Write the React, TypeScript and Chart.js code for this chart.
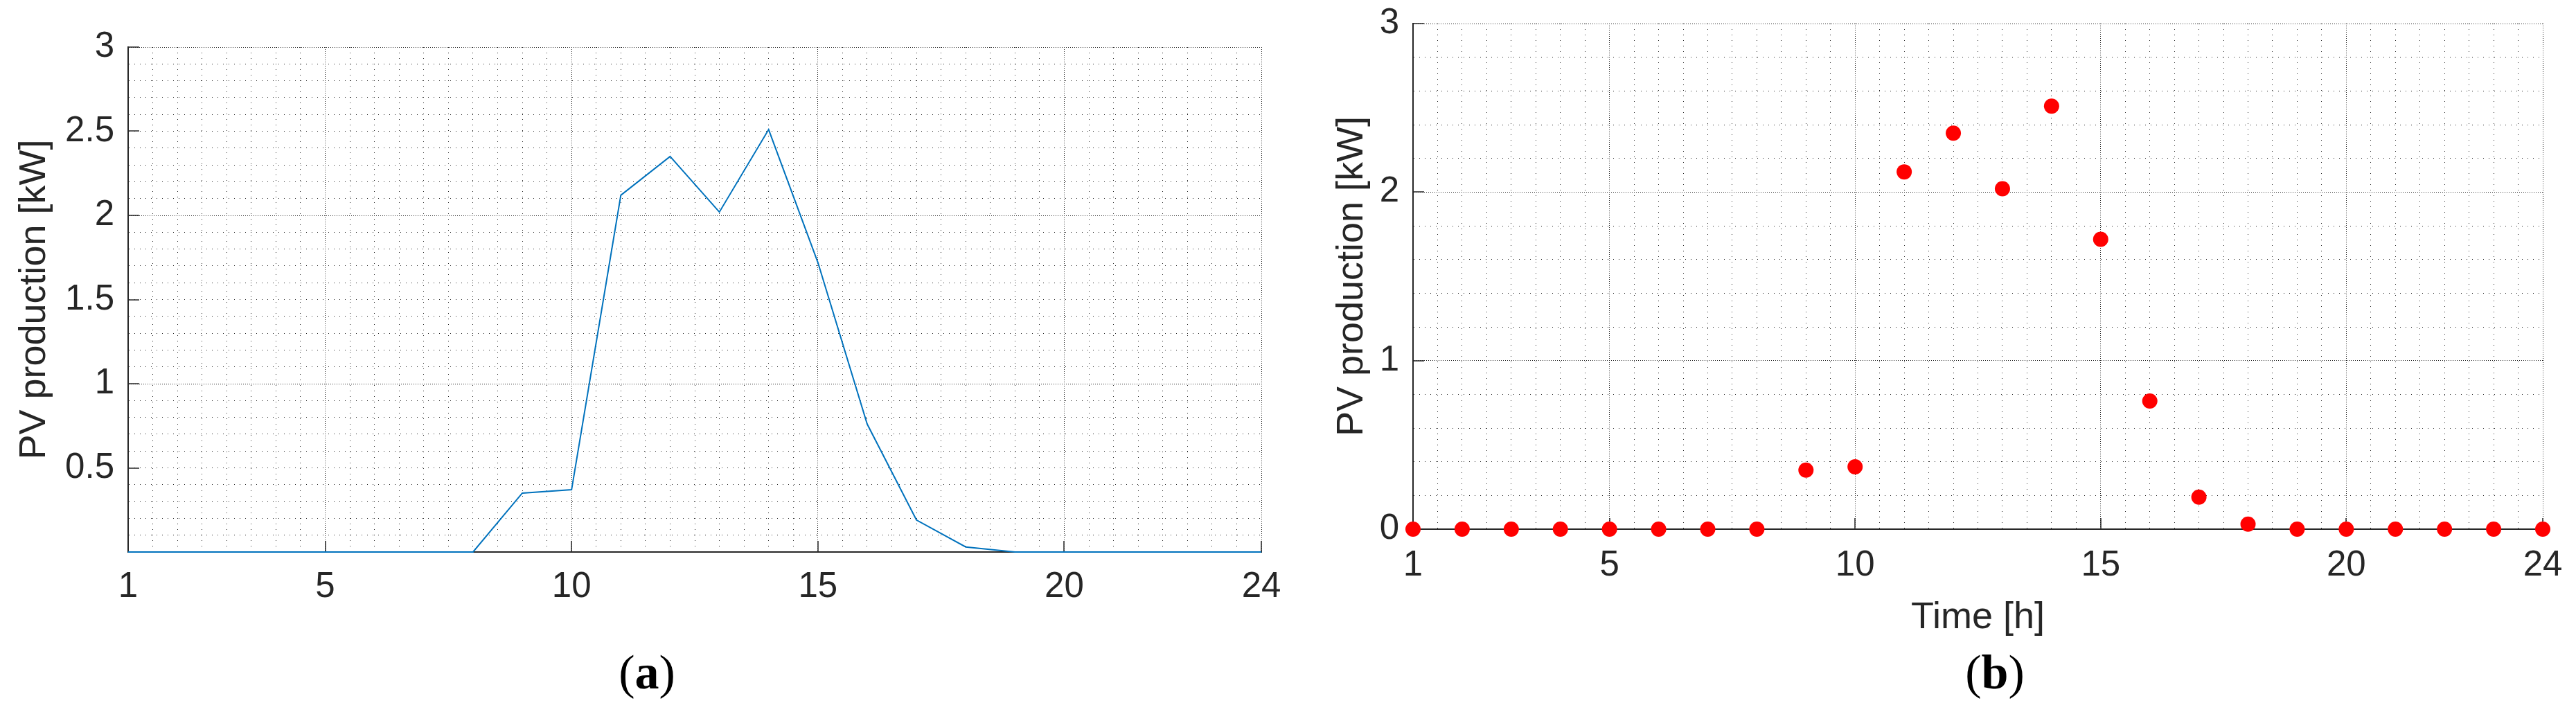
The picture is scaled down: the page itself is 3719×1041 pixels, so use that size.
import React, { useEffect, useRef } from "react";
import { Chart, registerables } from "chart.js";

Chart.register(...registerables);

// ---------- data ----------
const hours = [1, 2, 3, 4, 5, 6, 7, 8, 9, 10, 11, 12, 13, 14, 15, 16, 17, 18, 19, 20, 21, 22, 23, 24];
const pvProduction = [0, 0, 0, 0, 0, 0, 0, 0, 0.35, 0.37, 2.12, 2.35, 2.02, 2.51, 1.72, 0.76, 0.19, 0.03, 0, 0, 0, 0, 0, 0];
const xTickLabels = [1, 5, 10, 15, 20, 24];
const yTickLabelsA = [0.5, 1, 1.5, 2, 2.5, 3];
const yTickLabelsB = [0, 1, 2, 3];
const yMajorGrid = [1, 2, 3];
const yTitle = "PV production [kW]";
const xTitleB = "Time [h]";

const TEXT = "#262626";
const SANS = "'Liberation Sans', Arial, Helvetica, sans-serif";

const near = (v: number, list: number[]) => list.some((t) => Math.abs(t - v) < 1e-6);

type Cfg = {
  kind: "line" | "dots";
  canvasW: number;
  area: { left: number; right: number; top: number; bottom: number };
  yStep: number;
  yLabels: number[];
  yTitlePad: number;
  xTickPad: number;
  xTitle?: string;
  xTitlePadBottom?: number;
};

function innerTicks(xVals: number[], yVals: number[]) {
  return {
    id: "innerTicks",
    beforeDatasetsDraw(chart: any) {
      const { ctx, chartArea: a, scales } = chart;
      const x = scales.x;
      const y = scales.y;
      const len = 16;
      ctx.save();
      ctx.strokeStyle = TEXT;
      ctx.lineWidth = 1.5;
      ctx.beginPath();
      xVals.forEach((v) => {
        const px = Math.round(x.getPixelForValue(v));
        ctx.moveTo(px, a.bottom);
        ctx.lineTo(px, a.bottom - len);
      });
      yVals.forEach((v) => {
        const py = Math.round(y.getPixelForValue(v));
        ctx.moveTo(a.left, py);
        ctx.lineTo(a.left + len, py);
      });
      ctx.stroke();
      ctx.restore();
    },
  };
}

function buildConfig(c: Cfg): any {
  const H = 1041;
  const points = hours.map((h, i) => ({ x: h, y: pvProduction[i] }));
  const dataset =
    c.kind === "line"
      ? {
          data: points,
          borderColor: "#0072BD",
          borderWidth: 2,
          pointRadius: 0,
          tension: 0,
          fill: false,
          clip: false,
        }
      : {
          data: points,
          showLine: false,
          pointRadius: 11,
          pointBackgroundColor: "#FF0000",
          pointBorderWidth: 0,
          pointStyle: "circle",
          clip: false,
        };
  return {
    type: c.kind === "line" ? "line" : "scatter",
    data: { datasets: [dataset] },
    plugins: [innerTicks(xTickLabels, c.yLabels)],
    options: {
      responsive: false,
      animation: false,
      events: [],
      devicePixelRatio: 1,
      layout: {
        padding: { left: 0, top: c.area.top, right: c.canvasW - c.area.right, bottom: 0 },
      },
      plugins: { legend: { display: false }, tooltip: { enabled: false }, title: { display: false } },
      scales: {
        x: {
          type: "linear",
          min: 1,
          max: 24,
          afterFit: (s: any) => {
            s.height = H - c.area.bottom;
            s.paddingLeft = 0;
            s.paddingRight = 0;
          },
          ticks: {
            stepSize: 0.5,
            autoSkip: false,
            maxRotation: 0,
            minRotation: 0,
            padding: c.xTickPad,
            color: TEXT,
            font: { family: SANS, size: 51 },
            callback: (v: any) => (near(Number(v), xTickLabels) ? String(v) : ""),
          },
          grid: {
            drawTicks: false,
            tickLength: 0,
            lineWidth: 1,
            color: "#262626",
          },
          border: {
            display: true,
            color: TEXT,
            width: 2,
            dash: (ctx: any) =>
              ctx.tick && near(ctx.tick.value, xTickLabels) ? [1, 2] : [1, 7],
          },
          title: c.xTitle
            ? {
                display: true,
                text: c.xTitle,
                color: TEXT,
                font: { family: SANS, size: 54, lineHeight: 1.2 },
                padding: { top: 0, bottom: c.xTitlePadBottom || 0 },
              }
            : { display: false },
        },
        y: {
          type: "linear",
          min: 0,
          max: 3,
          afterFit: (s: any) => {
            s.width = c.area.left;
            s.paddingTop = 0;
            s.paddingBottom = 0;
          },
          ticks: {
            stepSize: c.yStep,
            autoSkip: false,
            padding: 20,
            color: TEXT,
            font: { family: SANS, size: 51 },
            callback: (v: any) => (near(Number(v), c.yLabels) ? String(v) : ""),
          },
          grid: {
            drawTicks: false,
            tickLength: 0,
            lineWidth: 1,
            color: "#262626",
          },
          border: {
            display: true,
            color: TEXT,
            width: 2,
            dash: (ctx: any) =>
              ctx.tick && near(ctx.tick.value, yMajorGrid) ? [1, 2] : [1, 7],
          },
          title: {
            display: true,
            text: yTitle,
            color: TEXT,
            font: { family: SANS, size: 54, lineHeight: 1.2 },
            padding: { top: c.yTitlePad, bottom: 0 },
          },
        },
      },
    },
  };
}

function ChartCanvas({ cfg, left }: { cfg: Cfg; left: number }) {
  const ref = useRef<HTMLCanvasElement | null>(null);
  useEffect(() => {
    if (!ref.current) return;
    const chart = new Chart(ref.current, buildConfig(cfg));
    return () => chart.destroy();
  }, []);
  return (
    <canvas
      ref={ref}
      width={cfg.canvasW}
      height={1041}
      style={{ position: "absolute", left, top: 0, width: cfg.canvasW, height: 1041, display: "block" }}
    />
  );
}

const cfgA: Cfg = {
  kind: "line",
  canvasW: 1860,
  area: { left: 185, right: 1821, top: 68, bottom: 797 },
  yStep: 0.1,
  yLabels: yTickLabelsA,
  yTitlePad: 18,
  xTickPad: 20,
};

const cfgB: Cfg = {
  kind: "dots",
  canvasW: 1859,
  area: { left: 180, right: 1811, top: 34, bottom: 764 },
  yStep: 0.2,
  yLabels: yTickLabelsB,
  yTitlePad: 60,
  xTickPad: 22,
  xTitle: xTitleB,
  xTitlePadBottom: 116,
};

function Caption({ letter, cx }: { letter: string; cx: number }) {
  return (
    <div
      style={{
        position: "absolute",
        left: cx - 100,
        top: 936,
        width: 200,
        textAlign: "center",
        fontFamily: "'Liberation Serif', 'DejaVu Serif', serif",
        fontSize: 70,
        lineHeight: "70px",
        color: "#000",
      }}
    >
      (<b>{letter}</b>)
    </div>
  );
}

export default function App() {
  return (
    <div style={{ position: "absolute", left: 0, top: 0, width: 3719, height: 1041, background: "#fff", overflow: "hidden" }}>
      <ChartCanvas cfg={cfgA} left={0} />
      <ChartCanvas cfg={cfgB} left={1860} />
      <Caption letter="a" cx={934} />
      <Caption letter="b" cx={2880} />
    </div>
  );
}
